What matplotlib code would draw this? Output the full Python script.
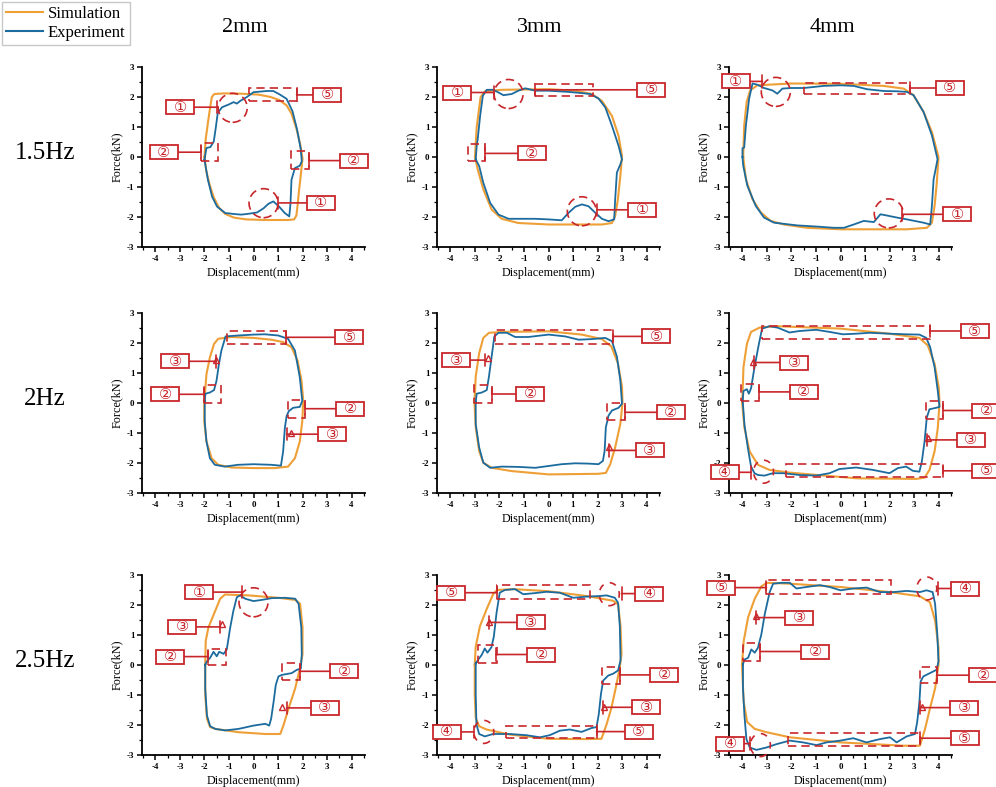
import matplotlib
matplotlib.use("Agg")
import matplotlib.pyplot as plt
import matplotlib.transforms as mtransforms
from matplotlib.patches import Ellipse, Rectangle
from matplotlib.ticker import MultipleLocator
import numpy as np

plt.rcParams['font.family'] = 'Liberation Serif'
plt.rcParams['axes.unicode_minus'] = False

ORANGE = '#EE9F36'
BLUE = '#1C6B9E'
RED = '#C8262B'

amplitudes = ['2mm', '3mm', '4mm']
frequencies = ['1.5Hz', '2Hz', '2.5Hz']

#%% loops: (displacement mm, force kN)

sim_15hz_2mm = [(-2.0, 0), (-1.95, 0.6), (-1.85, 1.2), (-1.76, 1.7), (-1.7, 2.0), (-1.6, 2.1), (-1.2, 2.12),
                (-0.5, 2.11), (0.2, 2.08), (0.7, 2.0), (1.05, 1.9), (1.35, 1.72), (1.55, 1.45), (1.75, 0.95),
                (1.9, 0.45), (2.0, -0.05), (1.93, -0.6), (1.86, -1.1), (1.8, -1.6), (1.75, -1.95), (1.66, -2.08),
                (1.4, -2.1), (0.5, -2.1), (-0.3, -2.08), (-0.8, -2.02), (-1.15, -1.9), (-1.4, -1.7),
                (-1.62, -1.35), (-1.8, -0.9), (-1.93, -0.45), (-2.0, 0)]
exp_15hz_2mm = [(-2.0, -0.09), (-1.92, 0.3), (-1.76, 0.33), (-1.62, 0.52), (-1.53, 1.03), (-1.46, 1.47),
                (-1.28, 1.66), (-1.01, 1.75), (-0.81, 1.83), (-0.68, 1.78), (-0.54, 1.87), (-0.27, 2.0),
                (0.0, 2.16), (0.54, 2.2), (0.81, 2.2), (1.08, 2.08), (1.35, 1.94), (1.59, 1.53), (1.78, 0.91),
                (1.93, 0.25), (1.97, -0.14), (1.89, -0.29), (1.69, -0.37), (1.55, -0.76), (1.51, -1.54),
                (1.46, -1.98), (1.28, -1.87), (1.04, -1.65), (0.81, -1.48), (0.61, -1.56), (0.41, -1.71),
                (0.14, -1.85), (-0.27, -1.9), (-0.5, -1.92), (-0.81, -1.9), (-1.0, -1.88), (-1.15, -1.87),
                (-1.49, -1.65), (-1.69, -1.32), (-1.86, -0.76), (-2.0, -0.09)]

sim_15hz_3mm = [(-3.0, 0), (-2.93, 1.0), (-2.77, 2.0), (-2.59, 2.19), (-1.91, 2.24), (0.0, 2.26), (1.09, 2.21),
                (1.77, 2.1), (2.18, 1.87), (2.59, 1.37), (2.86, 0.7), (3.0, 0.03), (2.93, -0.64), (2.83, -1.42),
                (2.72, -1.97), (2.59, -2.2), (2.18, -2.25), (0.0, -2.25), (-1.23, -2.2), (-1.91, -2.06),
                (-2.32, -1.75), (-2.66, -1.08), (-2.89, -0.41), (-3.0, 0)]
exp_15hz_3mm = [(-2.97, -0.08), (-2.93, 0.37), (-2.89, 0.59), (-2.79, 1.37), (-2.68, 2.04), (-2.52, 2.24),
                (-2.25, 2.24), (-2.04, 2.15), (-1.84, 2.06), (-1.5, 2.1), (-1.23, 2.21), (-0.95, 2.29),
                (-0.54, 2.21), (0.0, 2.21), (0.82, 2.17), (1.36, 2.13), (1.7, 2.1), (2.04, 1.95), (2.32, 1.65),
                (2.59, 1.04), (2.86, 0.37), (3.0, -0.08), (2.93, -0.25), (2.79, -0.52), (2.72, -1.42),
                (2.68, -2.08), (2.45, -2.14), (2.18, -2.06), (1.91, -1.86), (1.63, -1.64), (1.36, -1.58),
                (1.09, -1.66), (0.82, -1.86), (0.54, -2.11), (0.0, -2.08), (-0.54, -2.06), (-1.09, -2.06),
                (-1.63, -2.06), (-2.04, -1.92), (-2.38, -1.53), (-2.66, -0.86), (-2.83, -0.3), (-2.97, -0.08)]

sim_15hz_4mm = [(-3.97, 0), (-3.93, 1.05), (-3.83, 1.83), (-3.69, 2.22), (-3.39, 2.39), (-2.03, 2.45),
                (0.0, 2.44), (1.76, 2.37), (2.58, 2.28), (2.98, 2.06), (3.39, 1.5), (3.73, 0.83), (4.0, 0),
                (3.93, -0.85), (3.84, -1.63), (3.73, -2.19), (3.53, -2.36), (2.71, -2.41), (0.0, -2.41),
                (-1.36, -2.36), (-2.31, -2.25), (-2.85, -2.13), (-3.25, -1.85), (-3.59, -1.41), (-3.86, -0.74),
                (-3.97, 0)]
exp_15hz_4mm = [(-4.0, 0), (-4.0, 0.29), (-3.93, 0.32), (-3.86, 1.05), (-3.73, 1.94), (-3.59, 2.45),
                (-3.39, 2.41), (-3.12, 2.3), (-2.78, 2.22), (-2.58, 2.11), (-2.37, 2.28), (-2.03, 2.3),
                (-1.49, 2.3), (-0.68, 2.37), (0.0, 2.39), (0.54, 2.37), (1.08, 2.26), (1.76, 2.2), (2.31, 2.19),
                (2.71, 2.17), (2.98, 2.06), (3.39, 1.5), (3.73, 0.72), (3.96, -0.07), (3.91, -0.29),
                (3.8, -0.74), (3.73, -1.63), (3.66, -2.25), (3.39, -2.19), (2.71, -2.08), (2.31, -2.02),
                (1.83, -1.94), (1.63, -1.91), (1.36, -2.17), (0.95, -2.13), (0.54, -2.25), (0.14, -2.36),
                (-0.27, -2.36), (-0.95, -2.32), (-1.76, -2.28), (-2.71, -2.19), (-3.12, -2.02), (-3.46, -1.63),
                (-3.8, -0.96), (-3.97, -0.29), (-4.0, 0)]

sim_2hz_2mm = [(-2.01, 0), (-1.92, 0.96), (-1.78, 1.52), (-1.61, 1.97), (-1.44, 2.14), (-0.9, 2.2), (0.0, 2.17),
               (0.73, 2.11), (1.21, 2.03), (1.55, 1.86), (1.8, 1.41), (1.96, 0.74), (2.03, 0.07), (1.99, -0.61),
               (1.89, -1.28), (1.69, -1.84), (1.41, -2.12), (0.87, -2.17), (0.0, -2.17), (-0.9, -2.15),
               (-1.44, -2.06), (-1.71, -1.84), (-1.92, -1.28), (-2.01, -0.61), (-2.01, 0)]
exp_2hz_2mm = [(-1.99, 0.07), (-1.96, 0.31), (-1.78, 0.35), (-1.61, 0.43), (-1.51, 0.74), (-1.41, 1.3),
               (-1.31, 1.75), (-1.14, 2.22), (-0.63, 2.25), (0.0, 2.28), (0.46, 2.29), (1.01, 2.25), (1.41, 2.14),
               (1.69, 1.75), (1.89, 0.85), (1.99, 0.07), (1.89, -0.13), (1.62, -0.16), (1.44, -0.27),
               (1.35, -0.44), (1.28, -0.83), (1.21, -1.61), (1.12, -2.09), (0.73, -2.06), (0.0, -2.04),
               (-0.63, -2.06), (-1.17, -2.12), (-1.58, -2.06), (-1.78, -1.84), (-1.92, -1.28), (-1.99, -0.61),
               (-1.99, 0.07)]

sim_2hz_3mm = [(-3.02, 0), (-2.97, 0.88), (-2.83, 1.66), (-2.66, 2.17), (-2.43, 2.34), (-1.91, 2.37),
               (0.0, 2.39), (1.36, 2.28), (2.18, 2.13), (2.56, 1.89), (2.83, 1.33), (3.0, 0.54), (3.02, 0),
               (2.93, -0.7), (2.72, -1.48), (2.52, -2.04), (2.34, -2.33), (2.04, -2.36), (0.0, -2.38),
               (-1.5, -2.27), (-2.32, -2.16), (-2.66, -1.99), (-2.83, -1.6), (-2.97, -0.81), (-3.02, 0)]
exp_2hz_3mm = [(-2.97, 0.03), (-2.93, 0.31), (-2.72, 0.35), (-2.52, 0.43), (-2.43, 0.88), (-2.32, 1.55),
               (-2.21, 2.22), (-2.04, 2.34), (-1.7, 2.34), (-1.36, 2.2), (-0.82, 2.2), (0.0, 2.28), (0.68, 2.22),
               (1.23, 2.11), (1.77, 2.13), (2.32, 2.17), (2.59, 2.06), (2.79, 1.55), (2.93, 0.76), (3.0, -0.02),
               (2.86, -0.16), (2.59, -0.25), (2.45, -0.42), (2.34, -0.81), (2.29, -1.6), (2.22, -1.93),
               (2.04, -2.04), (1.63, -2.02), (1.09, -2.01), (0.54, -2.04), (0.0, -2.1), (-0.54, -2.16),
               (-1.23, -2.13), (-1.91, -2.12), (-2.38, -2.16), (-2.66, -1.99), (-2.83, -1.48), (-2.97, -0.7),
               (-2.97, 0.03)]

sim_2hz_4mm = [(-4.01, 0), (-3.96, 1.19), (-3.82, 1.97), (-3.65, 2.37), (-3.31, 2.51), (-2.63, 2.56),
               (0.0, 2.48), (2.0, 2.31), (3.22, 2.17), (3.56, 1.92), (3.84, 1.3), (4.01, 0.52), (4.04, 0),
               (3.97, -0.83), (3.84, -1.61), (3.63, -2.23), (3.43, -2.49), (3.09, -2.53), (0.64, -2.51),
               (-2.08, -2.32), (-2.9, -2.23), (-3.37, -2.06), (-3.71, -1.61), (-3.92, -0.83), (-4.01, 0)]
exp_2hz_4mm = [(-3.99, 0.07), (-3.96, 0.4), (-3.82, 0.46), (-3.74, 0.31), (-3.65, 0.49), (-3.51, 1.19),
               (-3.33, 1.97), (-3.2, 2.48), (-2.9, 2.56), (-2.56, 2.51), (-2.08, 2.35), (-1.67, 2.4),
               (-0.99, 2.44), (-0.45, 2.37), (0.1, 2.29), (0.64, 2.31), (1.18, 2.34), (2.0, 2.31), (2.68, 2.29),
               (3.22, 2.28), (3.5, 2.17), (3.66, 1.86), (3.84, 1.19), (3.97, 0.4), (4.04, -0.13), (3.9, -0.16),
               (3.63, -0.21), (3.52, -0.49), (3.43, -1.28), (3.32, -1.95), (3.22, -2.29), (2.95, -2.26),
               (2.68, -2.12), (2.34, -2.17), (2.0, -2.34), (1.32, -2.23), (0.64, -2.15), (-0.04, -2.2),
               (-0.45, -2.34), (-0.99, -2.42), (-1.67, -2.4), (-2.35, -2.34), (-2.76, -2.34), (-3.1, -2.42),
               (-3.37, -2.4), (-3.51, -2.34), (-3.65, -2.12), (-3.78, -1.5), (-3.92, -0.72), (-3.99, 0.07)]

sim_25hz_2mm = [(-1.97, 0), (-1.95, 0.8), (-1.84, 1.25), (-1.56, 1.81), (-1.36, 2.21), (-1.16, 2.35),
                (-0.2, 2.32), (1.02, 2.24), (1.7, 2.17), (1.9, 2.04), (2.0, 1.25), (2.0, 0.35), (1.9, -0.1),
                (1.7, -0.78), (1.43, -1.45), (1.22, -2.02), (1.09, -2.3), (0.48, -2.3), (-0.61, -2.24),
                (-1.56, -2.13), (-1.77, -2.07), (-1.9, -1.79), (-1.97, -1.0), (-1.97, 0)]
exp_25hz_2mm = [(-1.97, 0.01), (-1.9, 0.12), (-1.77, 0.24), (-1.63, 0.44), (-1.5, 0.29), (-1.4, 0.44),
                (-1.22, 0.37), (-1.09, 0.52), (-0.95, 1.25), (-0.82, 1.81), (-0.68, 2.26), (-0.54, 2.32),
                (-0.34, 2.21), (0.0, 2.13), (0.34, 2.17), (0.75, 2.23), (1.29, 2.24), (1.7, 2.21), (1.84, 2.04),
                (1.95, 1.25), (1.97, 0.35), (1.93, -0.12), (1.77, -0.16), (1.56, -0.27), (1.36, -0.3),
                (1.16, -0.33), (1.02, -0.38), (0.91, -0.66), (0.82, -1.23), (0.72, -1.79), (0.64, -2.02),
                (0.48, -1.96), (0.0, -2.02), (-0.61, -2.13), (-1.16, -2.18), (-1.56, -2.13), (-1.77, -2.04),
                (-1.9, -1.68), (-1.97, -0.78), (-1.97, 0.01)]

sim_25hz_3mm = [(-3.01, 0), (-2.97, 0.61), (-2.8, 1.29), (-2.53, 1.85), (-2.26, 2.36), (-2.1, 2.5),
                (-1.44, 2.53), (0.0, 2.46), (1.55, 2.3), (2.64, 2.14), (2.84, 2.02), (2.94, 1.29), (2.98, 0.38),
                (2.91, -0.07), (2.75, -0.74), (2.57, -1.42), (2.37, -1.98), (2.16, -2.46), (1.55, -2.47),
                (0.0, -2.46), (-1.58, -2.32), (-2.53, -2.15), (-2.83, -2.04), (-2.97, -1.76), (-3.01, -0.97),
                (-3.01, 0)]
exp_25hz_3mm = [(-2.97, 0.05), (-2.87, 0.18), (-2.73, 0.33), (-2.6, 0.55), (-2.49, 0.41), (-2.33, 0.59),
                (-2.23, 0.95), (-2.12, 1.74), (-1.99, 2.41), (-1.78, 2.5), (-1.37, 2.53), (-1.03, 2.36),
                (-0.63, 2.39), (-0.08, 2.44), (0.46, 2.41), (1.01, 2.24), (1.55, 2.28), (2.1, 2.3), (2.37, 2.32),
                (2.71, 2.24), (2.84, 2.07), (2.91, 1.29), (2.94, 0.16), (2.84, -0.18), (2.64, -0.29),
                (2.44, -0.35), (2.23, -0.52), (2.14, -0.97), (2.05, -1.65), (1.96, -2.07), (1.76, -2.1),
                (1.35, -2.23), (0.87, -2.15), (0.46, -2.19), (0.05, -2.34), (-0.35, -2.41), (-0.9, -2.34),
                (-1.58, -2.3), (-2.26, -2.3), (-2.6, -2.38), (-2.83, -2.3), (-2.94, -1.98), (-2.97, -0.97),
                (-2.97, 0.05)]

sim_25hz_4mm = [(-4.02, 0), (-3.95, 0.8), (-3.77, 1.59), (-3.5, 2.21), (-3.23, 2.62), (-3.0, 2.74),
                (-2.07, 2.71), (0.0, 2.6), (2.02, 2.43), (3.24, 2.29), (3.65, 2.09), (3.86, 1.48), (4.0, 0.57),
                (4.0, 0), (3.86, -0.78), (3.65, -1.45), (3.45, -2.13), (3.24, -2.69), (2.56, -2.69),
                (0.0, -2.58), (-2.07, -2.41), (-3.02, -2.24), (-3.5, -2.13), (-3.81, -1.9), (-3.95, -1.23),
                (-4.02, 0)]
exp_25hz_4mm = [(-3.98, 0.03), (-3.92, 0.18), (-3.77, 0.24), (-3.64, 0.52), (-3.5, 0.41), (-3.37, 0.57),
                (-3.23, 1.02), (-3.09, 1.7), (-2.89, 2.43), (-2.75, 2.71), (-2.41, 2.74), (-2.07, 2.74),
                (-1.8, 2.55), (-1.39, 2.6), (-0.84, 2.66), (-0.44, 2.6), (0.0, 2.49), (0.52, 2.55), (1.06, 2.58),
                (1.61, 2.43), (2.15, 2.43), (2.7, 2.47), (3.24, 2.43), (3.51, 2.49), (3.76, 2.43), (3.86, 2.04),
                (3.95, 1.02), (4.0, 0.12), (3.92, -0.16), (3.65, -0.27), (3.38, -0.38), (3.27, -0.55),
                (3.22, -1.23), (3.13, -1.9), (3.04, -2.3), (2.7, -2.38), (2.29, -2.58), (2.02, -2.41),
                (1.61, -2.47), (1.06, -2.58), (0.52, -2.44), (0.0, -2.52), (-0.57, -2.58), (-0.98, -2.67),
                (-1.53, -2.58), (-2.07, -2.52), (-2.62, -2.64), (-3.02, -2.75), (-3.43, -2.83), (-3.7, -2.75),
                (-3.84, -2.47), (-3.92, -1.68), (-3.98, -0.78), (-3.98, 0.03)]

#%% call-outs: (label, box x, y, leader end x) and marks drawn on the loops

tags_15hz_2mm = [('①', -3.0, 1.66, -1.49), ('⑤', 3.01, 2.07, 1.76), ('②', -3.66, 0.16, -2.16),
                 ('②', 4.09, -0.12, 2.27), ('①', 2.74, -1.53, 1.01)]
marks_15hz_2mm = [('circle', -0.85, 1.64), ('circle', 0.41, -1.54), ('rect', -0.2, 1.86, 1.76, 2.31),
                  ('rect', -2.16, -0.14, -1.46, 0.47), ('rect', 1.55, -0.40, 2.27, 0.19)]

tags_15hz_3mm = [('①', -3.73, 2.15, -2.21), ('⑤', 4.2, 2.24, -0.57), ('②', -0.69, 0.12, -2.59),
                 ('①', 3.83, -1.76, 1.98)]
marks_15hz_3mm = [('circle', -1.63, 2.1), ('circle', 1.36, -1.81), ('rect', -0.57, 2.02, 1.8, 2.43),
                  ('rect', -3.27, -0.13, -2.59, 0.42)]

tags_15hz_4mm = [('①', -4.27, 2.52, -3.19), ('⑤', 4.46, 2.3, 2.82), ('①', 4.77, -1.91, 2.52)]
marks_15hz_4mm = [('circle', -2.64, 2.17), ('circle', 1.97, -1.88), ('rect', -1.49, 2.09, 2.82, 2.48)]

tags_2hz_2mm = [('⑤', 3.9, 2.19, 1.32), ('③', -3.2, 1.39, -1.51), ('②', -3.6, 0.29, -2.01),
                ('②', 3.95, -0.19, 2.1), ('③', 3.22, -1.04, 1.35)]
marks_2hz_2mm = [('tri', -1.55, 1.43), ('tri', 1.51, -1.0), ('rect', -1.1, 1.97, 1.32, 2.4),
                 ('rect', -2.01, 0.01, -1.33, 0.61), ('rect', 1.39, -0.49, 2.1, 0.09)]

tags_2hz_3mm = [('⑤', 4.4, 2.22, 2.62), ('③', -3.77, 1.43, -2.59), ('②', -0.74, 0.3, -2.32),
                ('②', 4.99, -0.31, 3.11), ('③', 4.13, -1.58, 2.45)]
marks_2hz_3mm = [('tri', -2.48, 1.49), ('tri', 2.48, -1.48), ('rect', -2.18, 1.98, 2.62, 2.42),
                 ('rect', -3.02, 0.0, -2.32, 0.6), ('rect', 2.38, -0.58, 3.11, 0.0)]

tags_2hz_4mm = [('⑤', 5.47, 2.4, 3.66), ('③', -1.9, 1.35, -3.51), ('②', -1.5, 0.37, -3.33),
                ('②', 5.95, -0.25, 4.18), ('③', 5.31, -1.23, 3.52), ('④', -4.72, -2.31, -3.65),
                ('⑤', 5.95, -2.26, 4.18)]
marks_2hz_4mm = [('tri', -3.58, 1.38), ('tri', 3.58, -1.17), ('oval', -3.14, -2.29),
                 ('rect', -3.2, 2.12, 3.66, 2.57), ('rect', -4.05, 0.07, -3.33, 0.65),
                 ('rect', 3.47, -0.52, 4.18, 0.07), ('rect', -2.22, -2.46, 4.18, -2.04)]

tags_25hz_2mm = [('①', -2.22, 2.43, -0.45), ('③', -2.9, 1.27, -1.36), ('②', -3.39, 0.28, -1.86),
                 ('②', 3.71, -0.21, 1.88), ('③', 2.9, -1.43, 1.36)]
marks_25hz_2mm = [('circle', 0.0, 2.09), ('tri', -1.27, 1.36), ('tri', 1.16, -1.4),
                  ('rect', -1.86, -0.01, -1.13, 0.55), ('rect', 1.16, -0.5, 1.88, 0.07)]

tags_25hz_3mm = [('⑤', -3.96, 2.41, -2.12), ('④', 4.12, 2.38, 2.98), ('③', -0.72, 1.42, -2.42),
                 ('②', -0.29, 0.35, -2.15), ('②', 4.72, -0.33, 2.91), ('③', 3.99, -1.41, 2.23),
                 ('④', -4.15, -2.23, -3.05), ('⑤', 3.69, -2.22, 1.96)]
marks_25hz_3mm = [('oval', 2.48, 2.36), ('oval', -2.64, -2.23), ('tri', -2.42, 1.45), ('tri', 2.26, -1.39),
                  ('rect', -2.12, 2.21, 1.69, 2.66), ('rect', -2.87, 0.07, -2.12, 0.67),
                  ('rect', 2.2, -0.63, 2.91, -0.05), ('rect', -1.74, -2.44, 1.96, -2.04)]

tags_25hz_4mm = [('⑤', -4.86, 2.58, -3.02), ('④', 5.1, 2.55, 3.99), ('③', -1.68, 1.58, -3.46),
                 ('②', -1.04, 0.45, -3.27), ('②', 5.82, -0.34, 3.92), ('③', 5.04, -1.42, 3.24),
                 ('④', -4.5, -2.62, -3.68), ('⑤', 5.07, -2.44, 3.24)]
marks_25hz_4mm = [('oval', 3.52, 2.55), ('oval', -3.27, -2.67), ('tri', -3.43, 1.64), ('tri', 3.31, -1.4),
                  ('rect', -3.02, 2.38, 2.08, 2.83), ('rect', -3.98, 0.15, -3.27, 0.74),
                  ('rect', 3.24, -0.61, 3.95, -0.05), ('rect', -2.14, -2.69, 3.24, -2.26)]

panels = [
    [(sim_15hz_2mm, exp_15hz_2mm, tags_15hz_2mm, marks_15hz_2mm),
     (sim_15hz_3mm, exp_15hz_3mm, tags_15hz_3mm, marks_15hz_3mm),
     (sim_15hz_4mm, exp_15hz_4mm, tags_15hz_4mm, marks_15hz_4mm)],
    [(sim_2hz_2mm, exp_2hz_2mm, tags_2hz_2mm, marks_2hz_2mm),
     (sim_2hz_3mm, exp_2hz_3mm, tags_2hz_3mm, marks_2hz_3mm),
     (sim_2hz_4mm, exp_2hz_4mm, tags_2hz_4mm, marks_2hz_4mm)],
    [(sim_25hz_2mm, exp_25hz_2mm, tags_25hz_2mm, marks_25hz_2mm),
     (sim_25hz_3mm, exp_25hz_3mm, tags_25hz_3mm, marks_25hz_3mm),
     (sim_25hz_4mm, exp_25hz_4mm, tags_25hz_4mm, marks_25hz_4mm)],
]

#%% figure

W, H = 996, 787
XLIM = (-4.55, 4.55)
YLIM = (-3, 3)
DASH = (0, (5, 3))
BOX_W, BOX_H = 28, 14   # label box size in px

fig = plt.figure(figsize=(W / 100, H / 100), dpi=100)
col_left = [142, 437, 729]
row_top = [67, 313, 575]
aw, ah = 223, 180


def draw_panel(ax, sim, exp, tags, marks):
    sx, sy = np.array(sim).T
    ex, ey = np.array(exp).T
    ax.plot(sx, sy, color=ORANGE, lw=1.5, zorder=2)
    ax.plot(ex, ey, color=BLUE, lw=1.3, zorder=2)
    ax.set_xlim(*XLIM)
    ax.set_ylim(*YLIM)
    ax.spines[['top', 'right']].set_visible(False)
    ax.spines[['left', 'bottom']].set_linewidth(1.3)
    ax.xaxis.set_major_locator(MultipleLocator(1))
    ax.xaxis.set_minor_locator(MultipleLocator(0.5))
    ax.yaxis.set_major_locator(MultipleLocator(1))
    ax.yaxis.set_minor_locator(MultipleLocator(0.5))
    ax.set_xticks(range(-4, 5))
    ax.tick_params(which='major', length=3.5, width=1.1, labelsize=6.5, pad=2)
    ax.tick_params(which='minor', length=2, width=0.9)
    for lab in ax.get_xticklabels() + ax.get_yticklabels():
        lab.set_fontweight('bold')
    ax.set_xlabel('Displacement(mm)', fontsize=8.7, labelpad=3)
    ax.set_ylabel('Force(kN)', fontsize=8.7, labelpad=3)

    # px per data unit, so circles stay round
    kx = ax.bbox.width / (XLIM[1] - XLIM[0])
    ky = ax.bbox.height / (YLIM[1] - YLIM[0])
    for m in marks:
        if m[0] == 'circle':
            ax.add_patch(Ellipse((m[1], m[2]), 29 / kx, 29 / ky, fill=False, ec=RED, lw=1.2,
                                 ls=DASH, clip_on=False, zorder=3))
        elif m[0] == 'oval':
            ax.add_patch(Ellipse((m[1], m[2]), 20 / kx, 23 / ky, fill=False, ec=RED, lw=1.2,
                                 ls=(0, (4, 4)), clip_on=False, zorder=3))
        elif m[0] == 'rect':
            x0, y0, x1, y1 = m[1:]
            ax.add_patch(Rectangle((x0, y0), x1 - x0, y1 - y0, fill=False, ec=RED, lw=1.2,
                                   ls=DASH, clip_on=False, zorder=3))
        elif m[0] == 'tri':
            ax.plot(m[1], m[2], marker='^', ms=5, mfc='none', mec=RED, mew=1.0, clip_on=False, zorder=3)

    for num, bx, y, tx in tags:
        # fixed-size box in pixels around the label centre
        trans = mtransforms.Affine2D() + mtransforms.ScaledTranslation(bx, y, ax.transData)
        ax.add_patch(Rectangle((-BOX_W / 2, -BOX_H / 2), BOX_W, BOX_H, transform=trans, fc='white',
                               ec=RED, lw=1.3, clip_on=False, zorder=4))
        ax.text(bx, y, num, ha='center', va='center', color=RED, fontsize=10.5,
                family=['DejaVu Sans'], zorder=5, clip_on=False)
        edge = bx + (BOX_W / 2 / kx) * (1 if tx > bx else -1)
        ax.annotate('', xy=(tx, y), xytext=(edge, y),
                    arrowprops=dict(arrowstyle='-[,widthB=0.45,lengthB=0', color=RED, lw=1.2,
                                    shrinkA=0, shrinkB=0, mutation_scale=10),
                    annotation_clip=False, zorder=3)


for i in range(3):
    for j in range(3):
        ax = fig.add_axes([col_left[j] / W, 1 - (row_top[i] + ah) / H, aw / W, ah / H])
        draw_panel(ax, *panels[i][j])

for j, name in enumerate(amplitudes):
    fig.text((col_left[j] + 103) / W, 1 - 28 / H, name, ha='center', va='center', fontsize=16)
for i, name in enumerate(frequencies):
    fig.text(45 / W, 1 - (row_top[i] + 86) / H, name, ha='center', va='center', fontsize=18)

h_sim, = plt.plot([], [], color=ORANGE, lw=1.5)
h_exp, = plt.plot([], [], color=BLUE, lw=1.5)
fig.legend([h_sim, h_exp], ['Simulation', 'Experiment'], loc='upper left',
           bbox_to_anchor=(0.002, 0.998), fontsize=12, frameon=True, fancybox=False,
           edgecolor='#BBBBBB', handlelength=2.2, handletextpad=0.3, borderpad=0.25,
           labelspacing=0.2, borderaxespad=0)

fig.savefig('out.png', dpi=100)
